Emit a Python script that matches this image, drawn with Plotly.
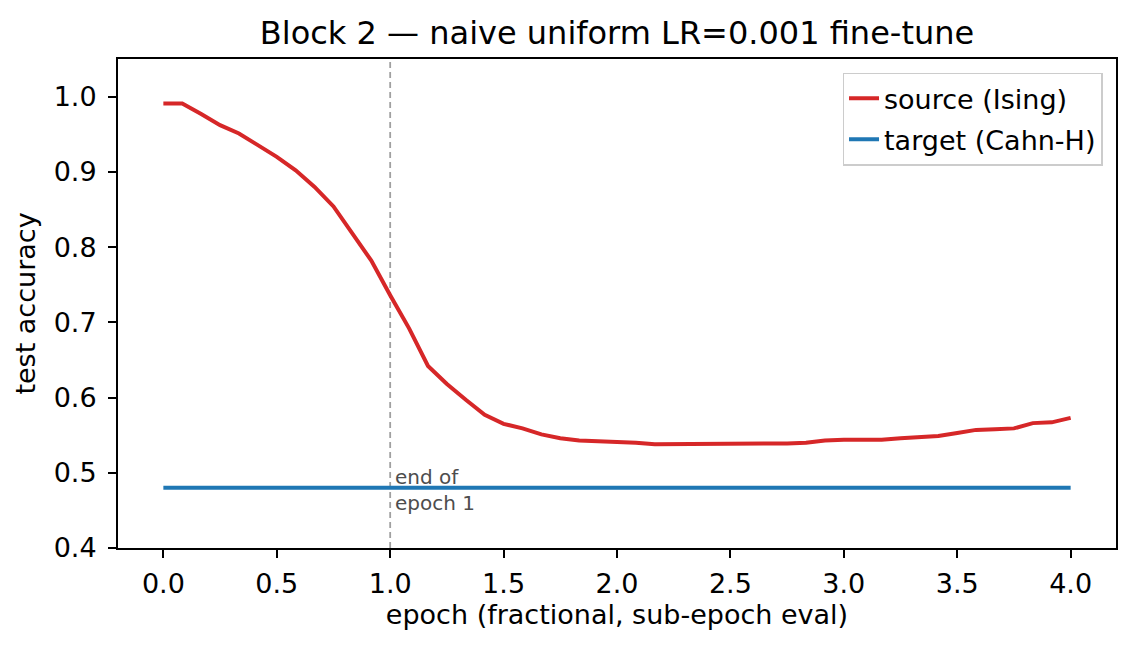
import plotly.graph_objects as go

# sub-epoch evaluation points (12 evals per epoch)
epochs = [0.0, 0.0833, 0.1667, 0.25, 0.3333, 0.4167, 0.5, 0.5833, 0.6667, 0.75,
          0.8333, 0.9167, 1.0, 1.0833, 1.1667, 1.25, 1.3333, 1.4167, 1.5, 1.5833,
          1.6667, 1.75, 1.8333, 1.9167, 2.0, 2.0833, 2.1667, 2.25, 2.3333, 2.4167,
          2.5, 2.5833, 2.6667, 2.75, 2.8333, 2.9167, 3.0, 3.0833, 3.1667, 3.25,
          3.3333, 3.4167, 3.5, 3.5833, 3.6667, 3.75, 3.8333, 3.9167, 4.0]

source_acc = [0.991, 0.991, 0.977, 0.962, 0.951, 0.935, 0.920, 0.902, 0.880, 0.854,
              0.818, 0.782, 0.736, 0.692, 0.642, 0.618, 0.597, 0.577, 0.565, 0.559,
              0.551, 0.546, 0.543, 0.542, 0.542, 0.540, 0.538, 0.538, 0.538, 0.538,
              0.538, 0.539, 0.539, 0.539, 0.540, 0.543, 0.544, 0.544, 0.544, 0.546,
              0.548, 0.549, 0.553, 0.557, 0.558, 0.559, 0.566, 0.567, 0.573]

target_acc = [0.48, 0.48, 0.48, 0.48, 0.48, 0.48, 0.48, 0.48, 0.48, 0.48,
              0.48, 0.48, 0.48, 0.48, 0.48, 0.48, 0.48, 0.48, 0.48, 0.48,
              0.48, 0.48, 0.48, 0.48, 0.48, 0.48, 0.48, 0.48, 0.48, 0.48,
              0.48, 0.48, 0.48, 0.48, 0.48, 0.48, 0.48, 0.48, 0.48, 0.48,
              0.48, 0.48, 0.48, 0.48, 0.48, 0.48, 0.48, 0.48, 0.48]

epoch_end = 1.0
x_ticks = [0.0, 0.5, 1.0, 1.5, 2.0, 2.5, 3.0, 3.5, 4.0]

FONT = "DejaVu Sans"

fig = go.Figure()

fig.add_trace(go.Scatter(x=epochs, y=source_acc, mode="lines", name="source (Ising)",
                         legendgroup="src", line=dict(color="#d62728", width=4)))
fig.add_trace(go.Scatter(x=epochs, y=target_acc, mode="lines", name="target (Cahn-H)",
                         legendgroup="tgt", line=dict(color="#1f77b4", width=4)))

# end of first epoch marker
fig.add_shape(type="line", x0=epoch_end, x1=epoch_end, y0=0, y1=1, yref="paper",
              line=dict(color="#a0a0a0", width=1.8, dash="6px,4px"), layer="below")
fig.add_annotation(x=epoch_end, y=0.441, xanchor="left", yanchor="bottom", xshift=3,
                   text="end of<br>epoch 1", showarrow=False, align="left",
                   font=dict(family=FONT, size=20, color="#4d4d4d"))

axis_style = dict(showgrid=False, zeroline=False, showline=True, mirror=True,
                  linecolor="black", linewidth=2, ticks="outside", ticklen=8,
                  tickwidth=2, tickcolor="black",
                  tickfont=dict(family=FONT, size=27, color="black"))

# the page body adds an 8px offset, so margins are shifted to compensate
fig.update_layout(
    width=1135, height=651,
    margin=dict(l=110, r=27, t=51, b=111),
    plot_bgcolor="white", paper_bgcolor="white",
    title=dict(text="Block 2 \u2014 naive uniform LR=0.001 fine-tune", x=0.5, xref="paper",
               xanchor="center", y=0.962, yanchor="middle",
               font=dict(family=FONT, size=32, color="black")),
    xaxis=dict(range=[-0.2, 4.2], tickvals=x_ticks, tickformat=".1f", ticklabelstandoff=3,
               title=dict(text="epoch (fractional, sub-epoch eval)", standoff=7,
                          font=dict(family=FONT, size=27, color="black")),
               **axis_style),
    yaxis=dict(range=[0.4, 1.05], dtick=0.1, tick0=0.4, tickformat=".1f", ticklabelstandoff=6,
               title=dict(text="test accuracy", standoff=10,
                          font=dict(family=FONT, size=27, color="black")),
               **axis_style),
    legend=dict(x=0.9865, y=0.972, xanchor="right", yanchor="top",
                bgcolor="white", bordercolor="#cccccc", borderwidth=1.5,
                traceorder="grouped", tracegroupgap=3,
                font=dict(family=FONT, size=27, color="black")),
    showlegend=True,
)

fig.write_html("out.html")
